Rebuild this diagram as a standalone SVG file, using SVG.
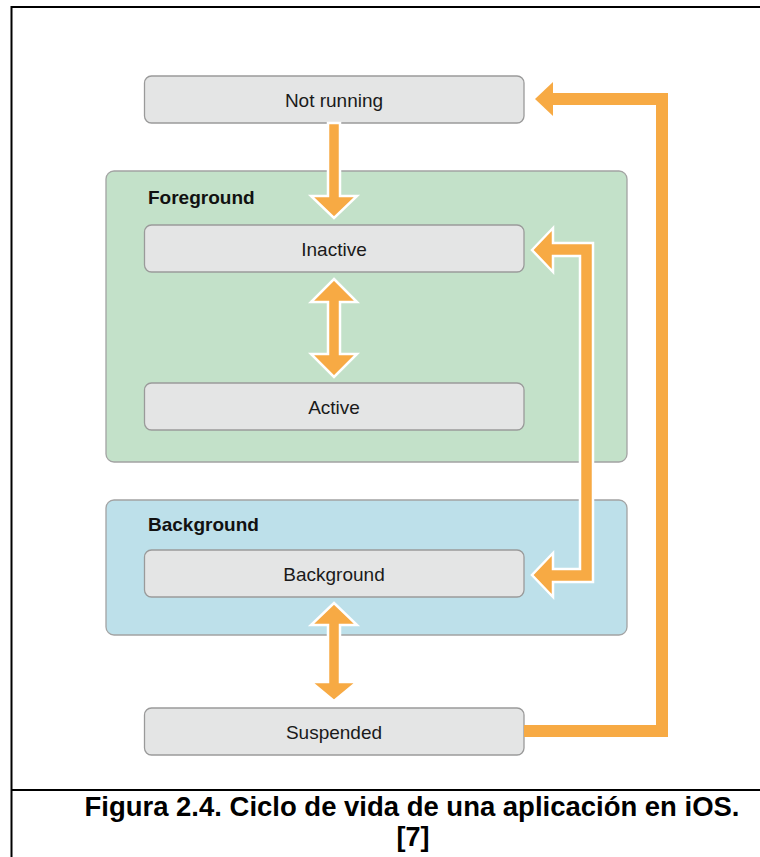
<svg xmlns="http://www.w3.org/2000/svg" width="760" height="857" viewBox="0 0 760 857">
<style>
.box{fill:#e4e5e5;stroke:#9a9a9a;stroke-width:1.3}
.grp{stroke:#a3a3a3;stroke-width:1.3}
.lbl{font-family:"Liberation Sans",Arial,sans-serif;font-size:19px;fill:#1a1a1a;text-anchor:middle}
.title{font-family:"Liberation Sans",Arial,sans-serif;font-size:19px;font-weight:bold;fill:#111}
.arr{fill:#f7aa44;stroke:#ffffff;stroke-width:2.5;stroke-linejoin:miter}
.cap{font-family:"Liberation Sans",Arial,sans-serif;font-size:27px;font-weight:bold;fill:#000;text-anchor:middle}
</style>
<rect width="760" height="857" fill="#ffffff"/>
<g id="frame" fill="none" stroke="#000" stroke-width="2">
<path d="M11.5 857 V7 H760"/>
<path d="M11.5 790 H760"/>
</g>
<g id="foreground">
<rect class="grp" x="106" y="171" width="521" height="291" rx="8" fill="#c3e1c9"/>
<text class="title" x="148" y="204">Foreground</text>
</g>
<g id="background-group">
<rect class="grp" x="106" y="500" width="521" height="135" rx="8" fill="#bde0ea"/>
<text class="title" x="148" y="531">Background</text>
</g>
<g id="not-running">
<rect class="box" x="144.5" y="76" width="379.5" height="47" rx="7"/>
<text class="lbl" x="334" y="107">Not running</text>
</g>
<g id="inactive">
<rect class="box" x="144.5" y="225" width="379.5" height="47" rx="7"/>
<text class="lbl" x="334" y="256">Inactive</text>
</g>
<g id="active">
<rect class="box" x="144.5" y="383" width="379.5" height="47" rx="7"/>
<text class="lbl" x="334" y="414">Active</text>
</g>
<g id="background">
<rect class="box" x="144.5" y="550" width="379.5" height="47" rx="7"/>
<text class="lbl" x="334" y="581">Background</text>
</g>
<g id="suspended">
<rect class="box" x="144.5" y="708" width="379.5" height="47" rx="7"/>
<text class="lbl" x="334" y="739">Suspended</text>
</g>
<g id="connectors">
<!-- Suspended -> Not running -->
<path d="M524 731 H662 V99 H552" fill="none" stroke="#f7aa44" stroke-width="12"/>
<polygon points="535,99 553,82 553,116" fill="#f7aa44"/>
<!-- Not running -> Inactive -->
<polygon class="arr" points="328,123 340,123 340,196 357,196 334,218 311,196 328,196"/>
<!-- Inactive <-> Active -->
<polygon class="arr" points="334,279 357,302 340,302 340,354 357,354 334,377 311,354 328,354 328,302 311,302"/>
<!-- Background <-> Suspended -->
<polygon class="arr" points="334,603 357,625 340,625 340,682 357,682 334,701 311,682 328,682 328,625 311,625"/>
<!-- Inactive <-> Background -->
<polygon class="arr" points="532,250 553,228 553,243 593,243 593,582 553,582 553,597 532,575 553,553 553,569 580,569 580,256 553,256 553,272"/>
</g>
<g id="caption">
<text class="cap" x="412" y="816" textLength="655" lengthAdjust="spacingAndGlyphs">Figura 2.4. Ciclo de vida de una aplicación en iOS.</text>
<text class="cap" x="413" y="846">[7]</text>
</g>
</svg>
